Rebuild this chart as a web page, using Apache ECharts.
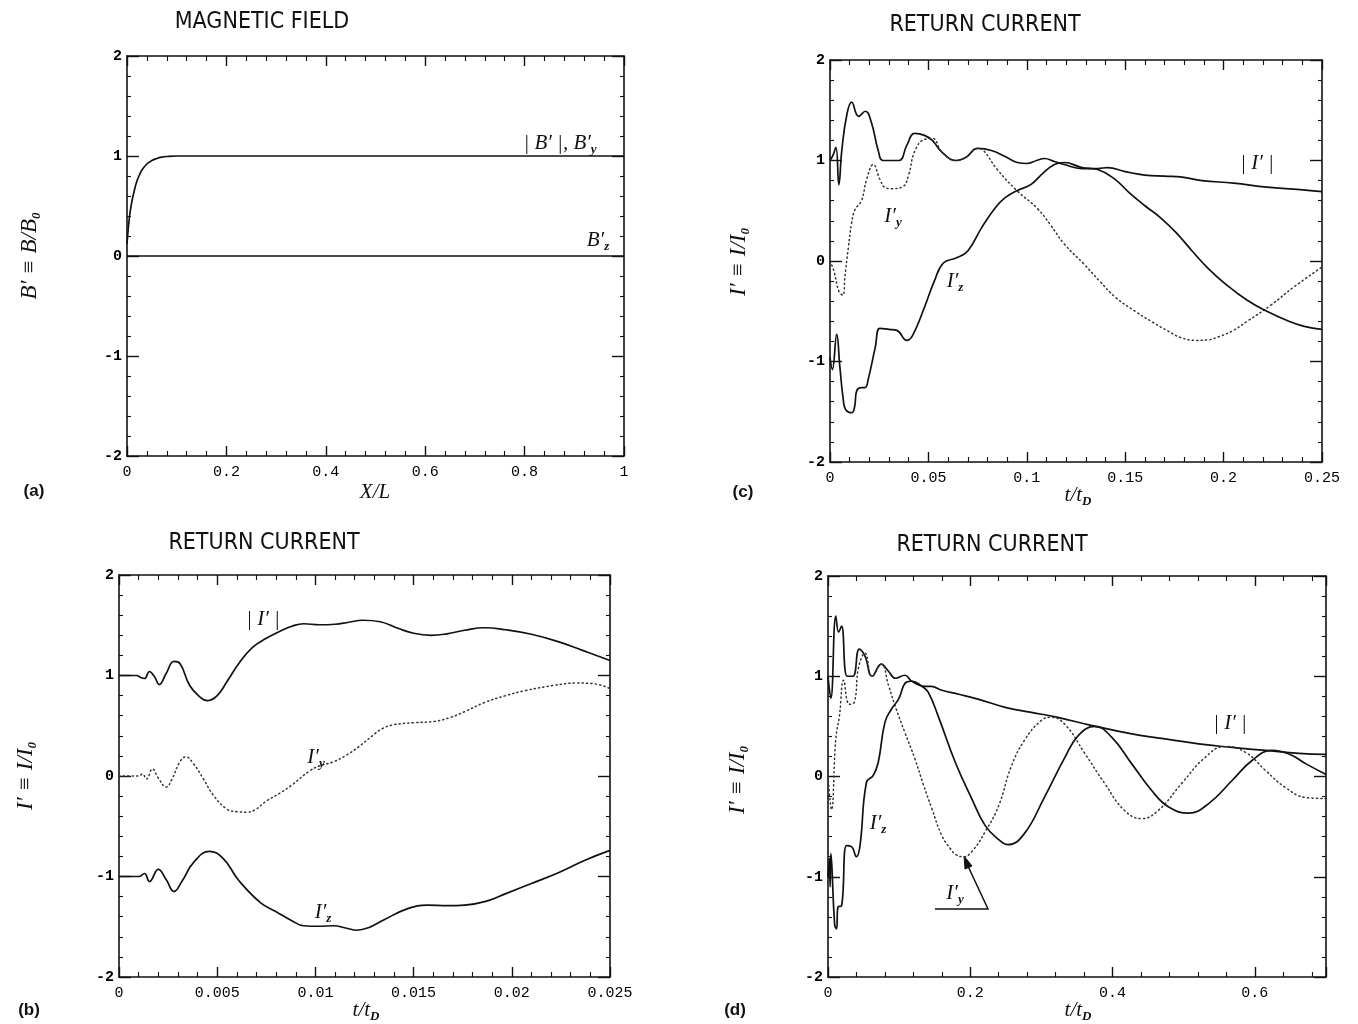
<!DOCTYPE html>
<html>
<head>
<meta charset="utf-8">
<script src="https://cdn.jsdelivr.net/npm/echarts@6/dist/echarts.min.js"></script>
<style>
html,body{margin:0;padding:0;background:#fff;}
#main{width:1358px;height:1024px;}
</style>
</head>
<body>
<div id="main"></div>
<script>
// (a) magnetic field, x = X/L
var aAbsB = [[0,0.12],[0.003,0.3],[0.006,0.43],[0.01,0.55],[0.015,0.66],[0.02,0.75],[0.025,0.81],[0.03,0.86],[0.04,0.92],[0.05,0.955],[0.06,0.975],[0.07,0.988],[0.08,0.995],[0.1,1],[1,1]];
var aBz = [[0,0],[1,0]];

// (c) return current, t/tD 0..0.25
var cAbs = [[0,1],[0.0015,1.05],[0.003,1.13],[0.0045,0.76],[0.006,1.1],[0.0085,1.45],[0.011,1.58],[0.0145,1.44],[0.018,1.49],[0.021,1.38],[0.0245,1.1],[0.027,1.0],[0.035,1.0],[0.039,1.15],[0.043,1.27],[0.048,1.25],[0.052,1.2],[0.057,1.08],[0.064,1.0],[0.069,1.03],[0.075,1.12],[0.082,1.1],[0.089,1.04],[0.0952,0.98],[0.1,0.97],[0.105,1.0],[0.109,1.02],[0.114,0.99],[0.119,0.96],[0.128,0.92],[0.136,0.92],[0.141,0.93],[0.15,0.89],[0.16,0.855],[0.17,0.845],[0.179,0.835],[0.189,0.8],[0.205,0.775],[0.222,0.735],[0.239,0.71],[0.25,0.69]];
var cIy = [[0,0],[0.002,-0.1],[0.0045,-0.3],[0.0065,-0.34],[0.0076,-0.15],[0.0093,0.13],[0.011,0.38],[0.0127,0.51],[0.016,0.6],[0.0186,0.81],[0.022,0.96],[0.0254,0.81],[0.028,0.73],[0.031,0.72],[0.037,0.74],[0.04,0.86],[0.043,1.09],[0.048,1.21],[0.052,1.22],[0.057,1.08],[0.064,1.0],[0.069,1.03],[0.075,1.12],[0.078,1.1],[0.085,0.91],[0.095,0.7],[0.1055,0.52],[0.112,0.36],[0.119,0.17],[0.129,-0.03],[0.137,-0.2],[0.145,-0.36],[0.155,-0.5],[0.164,-0.61],[0.172,-0.7],[0.178,-0.76],[0.186,-0.79],[0.192,-0.785],[0.198,-0.75],[0.205,-0.69],[0.212,-0.6],[0.224,-0.44],[0.2356,-0.26],[0.25,-0.06]];
var cIz = [[0,-0.96],[0.0012,-1.08],[0.0034,-0.73],[0.005,-1.05],[0.0068,-1.39],[0.008,-1.48],[0.011,-1.51],[0.0125,-1.45],[0.0136,-1.29],[0.016,-1.26],[0.0178,-1.26],[0.0195,-1.17],[0.023,-0.86],[0.0254,-0.67],[0.03,-0.68],[0.034,-0.69],[0.039,-0.79],[0.042,-0.74],[0.048,-0.46],[0.053,-0.2],[0.0576,-0.02],[0.064,0.03],[0.07,0.1],[0.077,0.33],[0.084,0.53],[0.089,0.63],[0.095,0.7],[0.102,0.76],[0.108,0.87],[0.114,0.96],[0.119,0.98],[0.128,0.93],[0.136,0.91],[0.145,0.81],[0.152,0.68],[0.16,0.55],[0.168,0.43],[0.176,0.28],[0.184,0.1],[0.192,-0.07],[0.201,-0.23],[0.212,-0.39],[0.222,-0.5],[0.232,-0.59],[0.241,-0.65],[0.25,-0.68]];

// (b) return current, t/tD 0..0.025
var bAbs = [[0,1],[0.0009,1],[0.0011,0.98],[0.0013,0.97],[0.00155,1.04],[0.0018,0.99],[0.00205,0.91],[0.0024,1.02],[0.0028,1.14],[0.0031,1.12],[0.0036,0.9],[0.0041,0.79],[0.0045,0.75],[0.005,0.8],[0.0055,0.94],[0.0061,1.12],[0.0068,1.28],[0.0075,1.37],[0.0082,1.44],[0.0088,1.49],[0.0094,1.515],[0.0102,1.505],[0.011,1.51],[0.0117,1.53],[0.0124,1.55],[0.0133,1.535],[0.0142,1.47],[0.015,1.42],[0.0159,1.4],[0.0167,1.415],[0.0176,1.45],[0.0186,1.475],[0.0197,1.455],[0.021,1.41],[0.0224,1.335],[0.0236,1.25],[0.025,1.15]];
var bIy = [[0,0],[0.001,0],[0.0012,0.02],[0.0014,-0.03],[0.0017,0.07],[0.002,-0.02],[0.0024,-0.11],[0.0027,-0.03],[0.0031,0.14],[0.0034,0.19],[0.0038,0.12],[0.0043,-0.03],[0.0048,-0.19],[0.0055,-0.33],[0.006,-0.355],[0.0065,-0.36],[0.0069,-0.34],[0.0075,-0.25],[0.0082,-0.17],[0.0088,-0.09],[0.0097,0.05],[0.0102,0.1],[0.0109,0.14],[0.0116,0.21],[0.0122,0.29],[0.0129,0.4],[0.0134,0.47],[0.014,0.51],[0.015,0.53],[0.0161,0.545],[0.0169,0.585],[0.0176,0.64],[0.0186,0.73],[0.0197,0.8],[0.0207,0.85],[0.0221,0.9],[0.0233,0.925],[0.0241,0.92],[0.025,0.87]];
var bIz = [[0,-1],[0.001,-1],[0.0013,-0.97],[0.00155,-1.05],[0.002,-0.93],[0.0024,-1.03],[0.0028,-1.15],[0.0032,-1.05],[0.0038,-0.86],[0.0046,-0.75],[0.0053,-0.82],[0.0061,-1.04],[0.0072,-1.26],[0.008,-1.35],[0.0088,-1.44],[0.0094,-1.49],[0.0102,-1.495],[0.0109,-1.49],[0.0116,-1.515],[0.0121,-1.535],[0.0127,-1.51],[0.0135,-1.43],[0.0147,-1.32],[0.0157,-1.285],[0.0167,-1.29],[0.0176,-1.285],[0.0188,-1.24],[0.0197,-1.17],[0.021,-1.07],[0.0224,-0.96],[0.0237,-0.84],[0.025,-0.74]];

// (d) return current, t/tD 0..0.7
var dAbs = [[0,1],[0.004,0.78],[0.011,1.6],[0.015,1.44],[0.019,1.5],[0.027,1.0],[0.035,1.0],[0.044,1.27],[0.052,1.2],[0.062,1.0],[0.075,1.12],[0.085,1.05],[0.095,0.98],[0.108,1.01],[0.118,0.95],[0.136,0.9],[0.145,0.9],[0.16,0.86],[0.184,0.82],[0.212,0.77],[0.249,0.69],[0.286,0.64],[0.323,0.59],[0.37,0.51],[0.427,0.425],[0.474,0.375],[0.521,0.325],[0.568,0.29],[0.615,0.26],[0.662,0.23],[0.7,0.22]];
var dIy = [[0,0],[0.005,-0.33],[0.011,0.38],[0.016,0.6],[0.022,0.96],[0.03,0.72],[0.037,0.74],[0.043,1.09],[0.052,1.23],[0.062,1.0],[0.075,1.12],[0.085,0.91],[0.094,0.71],[0.108,0.44],[0.122,0.18],[0.134,-0.08],[0.146,-0.32],[0.16,-0.59],[0.172,-0.72],[0.18,-0.78],[0.19,-0.8],[0.202,-0.75],[0.221,-0.55],[0.24,-0.29],[0.257,0.09],[0.276,0.36],[0.3,0.56],[0.314,0.59],[0.333,0.52],[0.361,0.23],[0.389,-0.07],[0.417,-0.34],[0.441,-0.42],[0.464,-0.34],[0.497,-0.07],[0.53,0.19],[0.558,0.3],[0.587,0.24],[0.615,0.06],[0.643,-0.11],[0.672,-0.21],[0.7,-0.22]];
var dIz = [[0,-1],[0.002,-0.82],[0.003,-1.1],[0.004,-0.77],[0.0094,-1.48],[0.012,-1.52],[0.014,-1.3],[0.019,-1.29],[0.026,-0.69],[0.033,-0.7],[0.04,-0.8],[0.045,-0.69],[0.054,-0.06],[0.0635,0.01],[0.0706,0.14],[0.08,0.54],[0.089,0.67],[0.099,0.77],[0.11,0.94],[0.118,0.95],[0.132,0.9],[0.141,0.84],[0.155,0.6],[0.179,0.14],[0.202,-0.22],[0.221,-0.49],[0.24,-0.63],[0.253,-0.68],[0.276,-0.57],[0.304,-0.21],[0.333,0.19],[0.352,0.41],[0.375,0.5],[0.399,0.39],[0.427,0.126],[0.455,-0.14],[0.479,-0.305],[0.507,-0.365],[0.535,-0.27],[0.568,-0.04],[0.596,0.16],[0.624,0.26],[0.648,0.225],[0.672,0.126],[0.7,0.02]];

// x ranges [min, max, interval] for a, c, b, d
var xRanges = [[0, 1, 0.2], [0, 0.25, 0.05], [0, 0.025, 0.005], [0, 0.7, 0.2]];
var yRange = [-2, 2, 1];

var chart = echarts.init(document.getElementById('main'));

var grids = [
  {left: 127, top: 56, width: 497, height: 400},
  {left: 830, top: 60, width: 492, height: 402},
  {left: 119, top: 575, width: 491, height: 402},
  {left: 828, top: 576, width: 498, height: 401}
];
grids.forEach(function (g) { g.outerBoundsMode = 'none'; g.containLabel = false; });

var ink = '#111';
var lineAx = {onZero: false, lineStyle: {color: ink, width: 1.6}};

var xAxis = [], yAxis = [];
xRanges.forEach(function (r, g) {
  var base = {
    gridIndex: g, type: 'value', min: r[0], max: r[1], interval: r[2],
    splitLine: {show: false}, axisLine: lineAx,
    axisTick: {inside: true, length: 10, lineStyle: {color: ink, width: 1.4}},
    minorTick: {show: true, splitNumber: 5, length: 5, lineStyle: {color: ink, width: 1.1}},
    minorSplitLine: {show: false}
  };
  xAxis.push(Object.assign({}, base, {
    position: 'bottom',
    axisLabel: {color: '#000', fontFamily: 'Liberation Mono', fontSize: 15, margin: 9,
      showMaxLabel: g !== 3, showMinLabel: true}
  }));
  xAxis.push(Object.assign({}, base, {position: 'top', axisLabel: {show: false}}));

  var ybase = {
    gridIndex: g, type: 'value', min: yRange[0], max: yRange[1], interval: yRange[2],
    splitLine: {show: false}, axisLine: lineAx,
    axisTick: {inside: true, length: 12, lineStyle: {color: ink, width: 1.4}},
    minorTick: {show: true, splitNumber: 5, length: 4, lineStyle: {color: ink, width: 1.1}},
    minorSplitLine: {show: false}
  };
  yAxis.push(Object.assign({}, ybase, {
    position: 'left',
    axisLabel: {color: '#000', fontFamily: 'Liberation Mono', fontWeight: 'bold', fontSize: 15, margin: 5}
  }));
  yAxis.push(Object.assign({}, ybase, {position: 'right', axisLabel: {show: false}}));
});

function curve(g, data, dotted) {
  return {
    type: 'line', xAxisIndex: 2 * g, yAxisIndex: 2 * g, data: data,
    showSymbol: false, symbol: 'none', smooth: 0.45,
    lineStyle: dotted ? {color: '#333', width: 1.5, type: [1.2, 3.2], cap: 'round'}
                      : {color: ink, width: 1.7},
    silent: true
  };
}

var series = [
  curve(0, aAbsB), curve(0, aBz),
  curve(1, cAbs), curve(1, cIy, true), curve(1, cIz),
  curve(2, bAbs), curve(2, bIy, true), curve(2, bIz),
  curve(3, dAbs), curve(3, dIy, true), curve(3, dIz)
];

// text helpers
var serif = 'Liberation Serif';
var richMath = {
  i: {fontFamily: serif, fontStyle: 'italic', fontSize: 21, fill: ink, color: ink, lineHeight: 26, verticalAlign: 'middle'},
  s: {fontFamily: serif, fontStyle: 'italic', fontWeight: 'bold', fontSize: 13, fill: ink, color: ink, lineHeight: 13, verticalAlign: 'bottom'}
};
function mathText(x, y, text, rot, size) {
  var rich = JSON.parse(JSON.stringify(richMath));
  if (size) { rich.i.fontSize = size; }
  return {
    type: 'text', x: x, y: y, rotation: rot || 0, silent: true,
    style: {text: text, rich: rich, textAlign: 'center', textVerticalAlign: 'middle',
      align: 'center', verticalAlign: 'middle', fill: ink}
  };
}
function plain(x, y, text, font) {
  return {
    type: 'text', x: x, y: y, silent: true,
    style: {text: text, font: font, fill: ink, textAlign: 'center', textVerticalAlign: 'middle',
      align: 'center', verticalAlign: 'middle'}
  };
}
var titleFont = '23px "Liberation Sans Narrow", "DejaVu Sans Condensed", sans-serif';
var tagFont = 'bold 17px "Liberation Sans", Arial, sans-serif';
var up = Math.PI / 2;

var graphic = [
  plain(262, 22, 'MAGNETIC FIELD', titleFont),
  plain(985, 25, 'RETURN CURRENT', titleFont),
  plain(264, 543, 'RETURN CURRENT', titleFont),
  plain(992, 545, 'RETURN CURRENT', titleFont),
  plain(34, 491, '(a)', tagFont),
  plain(743, 492, '(c)', tagFont),
  plain(29, 1010, '(b)', tagFont),
  plain(735, 1010, '(d)', tagFont),
  mathText(375, 492, '{i|X/L}'),
  mathText(1078, 495, '{i|t/t}{s|D}'),
  mathText(366, 1010, '{i|t/t}{s|D}'),
  mathText(1078, 1010, '{i|t/t}{s|D}'),
  mathText(30, 256, '{i|B′ ≡ B/B}{s|0}', up, 23),
  mathText(739, 262, '{i|I′ ≡ I/I}{s|0}', up, 23),
  mathText(26, 776, '{i|I′ ≡ I/I}{s|0}', up, 23),
  mathText(738, 780, '{i|I′ ≡ I/I}{s|0}', up, 23),
  mathText(560, 143, '{i|| B′ |, B′}{s|y}'),
  mathText(598, 240, '{i|B′}{s|z}'),
  mathText(1257, 163, '{i|| I′ |}'),
  mathText(893, 216, '{i|I′}{s|y}'),
  mathText(955, 281, '{i|I′}{s|z}'),
  mathText(263, 619, '{i|| I′ |}'),
  mathText(316, 757, '{i|I′}{s|y}'),
  mathText(323, 912, '{i|I′}{s|z}'),
  mathText(1230, 723, '{i|| I′ |}'),
  mathText(878, 823, '{i|I′}{s|z}'),
  mathText(955, 893, '{i|I′}{s|y}'),
  {type: 'polyline', silent: true, shape: {points: [[935, 909], [988, 909], [967, 864]]},
    style: {stroke: ink, lineWidth: 1.5, fill: null}},
  {type: 'polygon', silent: true, shape: {points: [[964, 856], [972, 866], [965, 869]]},
    style: {fill: ink, stroke: ink, lineWidth: 1}}
];

chart.setOption({
  animation: false,
  backgroundColor: '#fff',
  grid: grids,
  xAxis: xAxis,
  yAxis: yAxis,
  series: series,
  graphic: graphic
});
</script>
</body>
</html>
